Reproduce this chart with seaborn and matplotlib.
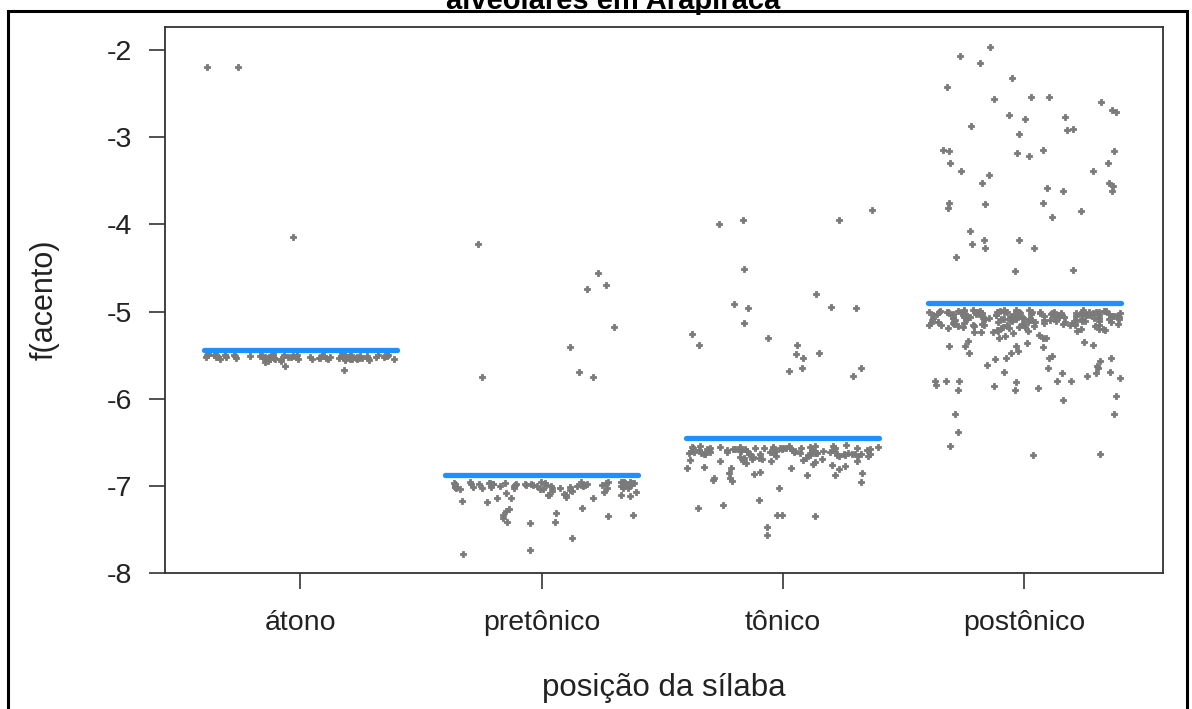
import numpy as np
import pandas as pd
import matplotlib
matplotlib.use("Agg")
import matplotlib.pyplot as plt
import seaborn as sns
from matplotlib.patches import Rectangle

# ---------------- data ----------------
categories = ["átono", "pretônico", "tônico", "postônico"]
group_means = [-5.44, -6.87, -6.45, -4.90]
y_ticks = [-8, -7, -6, -5, -4, -3, -2]

atono_vals = [
    -2.19, -2.19, -4.14, -5.67, -5.62,
    -5.50, -5.52, -5.54, -5.51, -5.53, -5.55, -5.50, -5.52, -5.56, -5.51,
    -5.53, -5.49, -5.52, -5.54, -5.50, -5.51, -5.53, -5.55, -5.52, -5.50,
    -5.54, -5.51, -5.53, -5.50, -5.52, -5.57, -5.51, -5.49, -5.53, -5.52,
    -5.50, -5.55, -5.52, -5.51, -5.54, -5.50, -5.53, -5.51, -5.58, -5.52,
    -5.51, -5.53, -5.50, -5.52, -5.54, -5.51, -5.49, -5.53, -5.52, -5.56,
    -5.52, -5.50, -5.54, -5.51, -5.53, -5.50, -5.52, -5.55, -5.51, -5.53,
    -5.50, -5.52, -5.51, -5.54, -5.50, -5.53, -5.52, -5.51, -5.57, -5.50,
    -5.53, -5.51, -5.52, -5.50, -5.54, -5.52, -5.51, -5.53, -5.50, -5.55,
]

pretonico_vals = [
    -4.23, -4.56, -4.70, -4.74, -5.18, -5.41, -5.69, -5.75, -5.75,
    -7.27, -7.43, -7.41, -7.41, -7.60, -7.31, -7.29, -7.18, -7.35, -7.37,
    -7.74, -7.78, -7.33, -7.17, -7.14, -7.25, -7.34, -7.11, -7.14, -7.06,
    -7.13, -7.07, -7.11,
    -6.96, -6.98, -7.00, -6.97, -7.02, -6.99, -7.04, -6.96, -7.01, -6.98,
    -7.00, -6.97, -6.99, -7.03, -6.96, -7.06, -6.98, -7.00, -7.08, -6.97,
    -7.01, -6.99, -6.96, -7.02, -6.98, -7.10, -6.97, -7.00, -6.99, -7.04,
    -6.98, -7.01, -6.96, -7.12, -6.99, -7.00, -6.97, -7.03, -6.98, -7.05,
    -7.00, -6.97, -6.99, -7.02, -6.96, -7.07, -6.98, -7.01, -6.97, -7.14,
    -6.99, -7.00, -6.96, -7.02, -6.98, -7.09, -6.97, -7.00, -7.03, -6.99,
    -6.98, -7.01, -6.97, -7.04, -7.00, -6.96, -7.11, -6.99, -7.02, -6.98,
]

tonico_vals = [
    -3.83, -3.95, -3.95, -3.99, -4.51, -4.80, -4.91, -4.95, -4.96, -4.96,
    -5.13, -5.26, -5.30, -5.38, -5.38, -5.47, -5.49, -5.53, -5.65, -5.65,
    -5.68, -5.74,
    -6.86, -6.93, -6.85, -6.81, -6.79, -6.88, -6.96, -6.80, -6.91, -6.88,
    -6.84, -6.85, -6.91, -6.94, -7.02, -7.33, -7.22, -7.16, -7.35, -7.33,
    -7.25, -7.47, -7.56,
    -6.55, -6.60, -6.58, -6.63, -6.57, -6.66, -6.54, -6.61, -6.59, -6.68,
    -6.56, -6.62, -6.72, -6.58, -6.64, -6.55, -6.60, -6.67, -6.57, -6.63,
    -6.53, -6.59, -6.70, -6.61, -6.56, -6.65, -6.58, -6.74, -6.62, -6.55,
    -6.60, -6.57, -6.64, -6.59, -6.69, -6.54, -6.62, -6.58, -6.76, -6.61,
    -6.56, -6.63, -6.60, -6.66, -6.55, -6.71, -6.59, -6.62, -6.57, -6.65,
    -6.58, -6.61, -6.54, -6.68, -6.60, -6.63, -6.56, -6.78, -6.59, -6.62,
    -6.57, -6.64, -6.55, -6.60, -6.67, -6.58, -6.73, -6.61, -6.56, -6.63,
    -6.59, -6.54, -6.66, -6.60, -6.57, -6.69, -6.62, -6.55, -6.64, -6.58,
    -6.61, -6.80, -6.56, -6.63, -6.59, -6.65, -6.57, -6.60, -6.70, -6.62,
    -6.66, -6.71, -6.63, -6.75, -6.68, -6.64, -6.72, -6.69, -6.65, -6.77,
]

postonico_vals = [
    -1.96, -2.07, -2.15, -2.32, -2.42, -2.54, -2.59, -2.56, -2.69, -2.75,
    -2.54, -2.71, -2.77, -2.79, -2.90, -2.96, -2.92, -2.87, -3.15, -3.15,
    -3.21, -3.18, -3.29, -3.29, -3.16, -3.16, -3.43, -3.52, -3.52, -3.56,
    -3.62, -3.62, -3.39, -3.39, -3.58, -3.77, -3.75, -3.75, -3.85, -3.91,
    -3.81, -4.08, -4.18, -4.18, -4.22, -4.27, -4.27, -4.37, -4.52, -4.53,
    -5.53, -5.88, -6.38, -6.63, -6.54, -6.65, -6.17, -6.17, -6.01, -5.97,
    -5.76, -5.55, -5.53, -5.69, -5.65, -5.71, -5.71, -5.80, -5.86, -5.57,
    -5.45, -5.48, -5.61, -5.80, -5.80, -5.69, -5.65, -5.84, -5.63, -5.80,
    -5.74, -5.81, -5.80, -5.90, -5.90, -5.53, -5.51, -5.47, -5.41, -5.34,
    -5.28, -5.30, -5.30, -5.40, -5.40, -5.39, -5.36, -5.38, -5.27, -5.35,
    -5.30,
    -4.99, -5.03, -5.07, -5.01, -5.10, -5.04, -4.98, -5.06, -5.13, -5.02,
    -5.05, -5.00, -5.09, -5.03, -5.16, -5.01, -5.07, -4.99, -5.11, -5.04,
    -5.02, -5.08, -4.98, -5.05, -5.12, -5.00, -5.06, -5.19, -5.03, -5.09,
    -5.01, -5.04, -5.14, -4.99, -5.07, -5.02, -5.10, -5.05, -5.22, -5.00,
    -5.06, -5.03, -4.98, -5.08, -5.01, -5.13, -5.04, -5.17, -5.02, -5.07,
    -5.00, -5.05, -5.11, -5.03, -4.99, -5.08, -5.02, -5.15, -5.06, -5.01,
    -5.04, -5.09, -5.00, -5.06, -5.20, -5.03, -4.98, -5.10, -5.05, -5.02,
    -5.07, -5.01, -5.12, -5.04, -5.00, -5.08, -5.03, -5.24, -4.99, -5.06,
    -5.02, -5.14, -5.05, -5.01, -5.09, -5.03, -4.98, -5.07, -5.18, -5.04,
    -5.00, -5.06, -5.02, -5.11, -5.05, -4.99, -5.08, -5.03, -5.13, -5.01,
    -5.04, -5.10, -5.00, -5.07, -5.02, -5.21, -5.05, -4.98, -5.09, -5.03,
    -5.06, -5.01, -5.15, -5.04, -5.00, -5.08, -5.02, -5.12, -5.05, -4.99,
    -5.03, -5.07, -5.01, -5.16, -5.04, -5.00, -5.09, -5.06, -5.02, -5.11,
    -5.12, -5.18, -5.09, -5.22, -5.14, -5.10, -5.19, -5.15, -5.11, -5.24,
    -5.13, -5.17, -5.08, -5.20, -5.16, -5.12, -5.23, -5.10, -5.18, -5.14,
    -5.09, -5.21, -5.15, -5.11, -5.17, -5.13, -5.25, -5.12, -5.16, -5.19,
    -5.10, -5.14, -5.18, -5.12, -5.22, -5.15, -5.11, -5.17, -5.13, -5.20,
]

title_text = "alveolares em Arapiraca"
x_label = "posição da sílaba"
y_label = "f(acento)"

# ---------------- build table ----------------
groups = [atono_vals, pretonico_vals, tonico_vals, postonico_vals]
df = pd.DataFrame({
    "pos": np.concatenate([[c] * len(g) for c, g in zip(categories, groups)]),
    "f": np.concatenate(groups),
})

# ---------------- style ----------------
sns.set_style("ticks")
plt.rcParams["font.family"] = ["Liberation Sans", "DejaVu Sans"]

W, H = 1192, 709
fig = plt.figure(figsize=(W / 100, H / 100), dpi=100)
fig.patch.set_facecolor("white")

ax = fig.add_axes([165 / W, 1 - 573 / H, (1163 - 165) / W, (573 - 27) / H])

np.random.seed(11)
sns.stripplot(data=df, x="pos", y="f", order=categories, jitter=0.4,
              color="#7a7a7a", marker="P", size=4.6, linewidth=0.6,
              edgecolor="#7a7a7a", ax=ax, zorder=2)

# group mean segments
for i, m in enumerate(group_means):
    ax.hlines(m, i - 0.4, i + 0.4, color="#1E90FF", linewidth=3.8,
              zorder=3, capstyle="round")

ax.set_xlim(-0.56, 3.575)
ax.set_ylim(-8.0, -1.735)
ax.set_yticks(y_ticks)
ax.set_yticklabels([str(t) for t in y_ticks])
ax.set_xticks(range(len(categories)))
ax.set_xticklabels(categories)

for s in ax.spines.values():
    s.set_visible(True)
    s.set_color("#333333")
    s.set_linewidth(1.3)

ax.tick_params(axis="both", direction="out", length=11.5, width=1.2,
               color="#333333", labelsize=20.5, labelcolor="#222222", pad=12)
ax.tick_params(axis="x", pad=15)

ax.set_xlabel(x_label, fontsize=22.5, color="#222222")
ax.set_ylabel(y_label, fontsize=22, color="#222222")
ax.xaxis.set_label_coords(0.5, -(688 - 573) / (573 - 27))
ax.yaxis.set_label_coords(-(165 - 45) / (1163 - 165), 0.5)
ax.xaxis.label.set_va("center")
ax.yaxis.label.set_va("center")

# outer frame (bottom cut off)
fig.patches.append(Rectangle((8 / W, -0.2), (1187 - 8) / W, 1.2 - 11 / H,
                             transform=fig.transFigure, fill=False,
                             edgecolor="black", linewidth=2.2))

# title, mostly cut off at the top (as in the source image)
fig.text(613 / W, 1 - 9 / H, title_text, ha="center", va="baseline",
         fontsize=21, fontweight="bold", color="black")

fig.savefig("out.png", dpi=100, facecolor="white")
